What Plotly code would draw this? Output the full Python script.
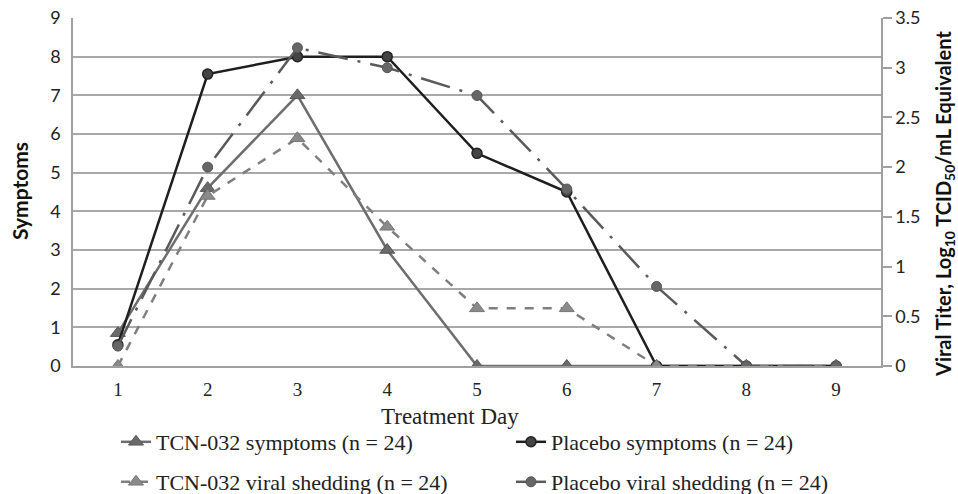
import plotly.graph_objects as go

days = [1, 2, 3, 4, 5, 6, 7, 8, 9]
day_labels = ["1", "2", "3", "4", "5", "6", "7", "8", "9"]

tcn_symptoms = [0.85, 4.6, 7.0, 3.0, 0, 0, 0, 0, 0]
placebo_symptoms = [0.55, 7.55, 8.0, 8.0, 5.5, 4.5, 0, 0, 0]
tcn_viral = [0.0, 1.71, 2.29, 1.4, 0.58, 0.58, 0.0, 0.0, 0.0]
placebo_viral = [0.2, 2.0, 3.2, 3.0, 2.72, 1.78, 0.8, 0.0, 0.0]

left_ticks = [0, 1, 2, 3, 4, 5, 6, 7, 8, 9]
right_ticks = [0, 0.5, 1, 1.5, 2, 2.5, 3, 3.5]
right_tick_labels = ["0", "0.5", "1", "1.5", "2", "2.5", "3", "3.5"]

serif = "Liberation Serif"
sans = "Lato"

W, H = 958, 494
ML, MR, MT, MB = 73, 77, 18, 128
PW, PH = W - ML - MR, H - MT - MB


def px_x(x):
    return (x - ML) / PW


def px_y(y):
    return (H - MB - y) / PH


fig = go.Figure()

fig.add_trace(go.Scatter(
    x=days, y=tcn_viral, yaxis="y2", name="TCN-032 viral shedding (n = 24)",
    mode="lines+markers", legend="legend2",
    line=dict(color="#7f7f7f", width=2.5, dash="dash"),
    marker=dict(symbol="triangle-up", size=13, color="#8a8a8a", line=dict(color="#777777", width=1)),
))
fig.add_trace(go.Scatter(
    x=days, y=placebo_viral, yaxis="y2", name="Placebo viral shedding (n = 24)",
    mode="lines+markers", legend="legend2",
    line=dict(color="#5a5a5a", width=2.5, dash="30px,10px,3px,10px"),
    marker=dict(symbol="circle", size=10, color="#666666", line=dict(color="#555555", width=1)),
))
fig.add_trace(go.Scatter(
    x=days, y=tcn_symptoms, yaxis="y", name="TCN-032 symptoms (n = 24)",
    mode="lines+markers", legend="legend",
    line=dict(color="#6e6e6e", width=2.5),
    marker=dict(symbol="triangle-up", size=13, color="#6a6a6a", line=dict(color="#555555", width=1)),
))
fig.add_trace(go.Scatter(
    x=days, y=placebo_symptoms, yaxis="y", name="Placebo symptoms (n = 24)",
    mode="lines+markers", legend="legend",
    line=dict(color="#1e1e1e", width=2.5),
    marker=dict(symbol="circle", size=10, color="#444444", line=dict(color="#222222", width=1.5)),
))

legend_font = dict(family=serif, size=22, color="#222222")

fig.update_layout(
    width=W, height=H,
    margin=dict(l=ML, r=MR, t=MT, b=MB, autoexpand=False),
    paper_bgcolor="white", plot_bgcolor="white",
    font=dict(family=serif, size=17, color="#222222"),
    xaxis=dict(
        range=[0.5, 9.5], tickmode="array", tickvals=days, ticktext=day_labels,
        showgrid=False, zeroline=False, showline=True, linecolor="#a0a0a0", linewidth=1.5,
        ticks="", automargin=False, ticklabelstandoff=5,
        tickfont=dict(family=serif, size=19, color="#222222"),
    ),
    yaxis=dict(
        range=[0, 9], tickmode="array", tickvals=left_ticks,
        showgrid=True, gridcolor="#a8a8a8", gridwidth=1.5, zeroline=False,
        showline=True, linecolor="#a0a0a0", linewidth=1.5,
        ticks="", automargin=False, ticklabelstandoff=7,
        tickfont=dict(family=sans, size=18, color="#222222"),
    ),
    yaxis2=dict(
        range=[0, 3.5], tickmode="array", tickvals=right_ticks, ticktext=right_tick_labels,
        overlaying="y", side="right", showgrid=False, zeroline=False,
        showline=True, linecolor="#a0a0a0", linewidth=1.5, automargin=False,
        ticks="outside", ticklen=9, tickcolor="#a0a0a0", tickwidth=1.5,
        tickfont=dict(family=sans, size=18, color="#222222"),
    ),
    legend=dict(
        orientation="h", x=116 / W, xref="container", xanchor="left",
        y=1 - 442 / H, yref="container", yanchor="middle",
        font=legend_font, entrywidth=350, traceorder="normal",
        bgcolor="rgba(0,0,0,0)", itemwidth=30,
    ),
    legend2=dict(
        orientation="h", x=116 / W, xref="container", xanchor="left",
        y=1 - 482 / H, yref="container", yanchor="middle",
        font=legend_font, entrywidth=350, traceorder="normal",
        bgcolor="rgba(0,0,0,0)", itemwidth=30,
    ),
    showlegend=True,
    annotations=[
        dict(text="<b>Symptoms</b>", xref="paper", yref="paper", x=px_x(19), y=px_y(191),
             xanchor="center", yanchor="middle", textangle=-90, showarrow=False,
             font=dict(family=sans, size=21, color="#111111")),
        dict(text="<b>Viral Titer, Log<sub>10</sub> TCID<sub>50</sub>/mL Equivalent</b>",
             xref="paper", yref="paper", x=px_x(944), y=px_y(204),
             xanchor="center", yanchor="middle", textangle=-90, showarrow=False,
             font=dict(family=sans, size=20, color="#111111")),
        dict(text="Treatment Day", xref="paper", yref="paper", x=px_x(450), y=px_y(416),
             xanchor="center", yanchor="middle", showarrow=False,
             font=dict(family=serif, size=23, color="#222222")),
    ],
)

fig.write_html(
    "out.html",
    config={"displayModeBar": False},
    post_script="document.body.style.margin='0';document.body.style.overflow='hidden';",
)
